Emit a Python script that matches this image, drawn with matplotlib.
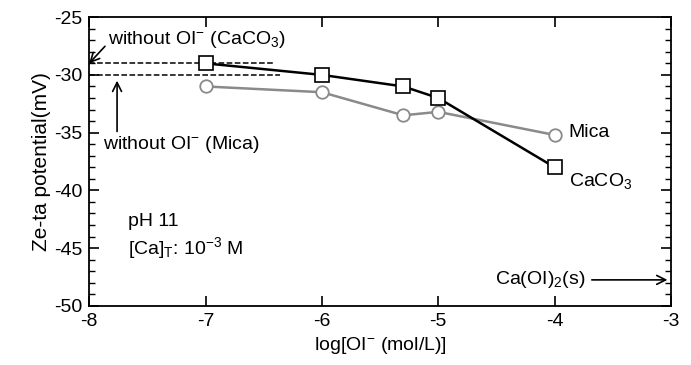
import numpy as np
import matplotlib.pyplot as plt
from matplotlib.ticker import MultipleLocator

plt.rcParams['font.family'] = ['Liberation Sans', 'DejaVu Sans']
plt.rcParams['font.size'] = 14
plt.rcParams['axes.unicode_minus'] = False
plt.rcParams['mathtext.fontset'] = 'custom'
plt.rcParams['mathtext.rm'] = 'Liberation Sans'
plt.rcParams['mathtext.it'] = 'Liberation Sans:italic'
plt.rcParams['mathtext.bf'] = 'Liberation Sans:bold'

# data
log_ol = [-7, -6, -5.3, -5, -4]
zeta_caco3 = [-29, -30, -31, -32, -38]
zeta_mica = [-31, -31.5, -33.5, -33.2, -35.2]
base_caco3 = -29
base_mica = -30

fig = plt.figure(figsize=(6.91, 3.65), dpi=100)
ax = fig.add_axes([0.129, 0.162, 0.842, 0.791])

gray = '#8a8a8a'
ax.plot(log_ol, zeta_mica, '-o', color=gray, lw=1.8, ms=9,
        mfc='white', mec=gray, mew=1.3, zorder=3)
ax.plot(log_ol, zeta_caco3, '-s', color='black', lw=1.8, ms=10.5,
        mfc='white', mec='black', mew=1.2, zorder=4)

# baselines without OI-
ax.plot([-8, -6.4], [base_caco3, base_caco3], '--', color='black', lw=1.1, zorder=2)
ax.plot([-8, -6.36], [base_mica, base_mica], '--', color='black', lw=1.1, zorder=2)

ax.annotate('without OI$^{\\mathregular{-}}$ (CaCO$_3$)', xy=(-8, base_caco3),
            xytext=(-7.84, -26.9), ha='left', va='center',
            arrowprops=dict(arrowstyle='->', color='black', lw=1.2,
                            mutation_scale=16, shrinkA=0, shrinkB=0,
                            relpos=(0, 0.3)))
ax.annotate('', xy=(-7.76, -30.5), xytext=(-7.76, -34.9),
            arrowprops=dict(arrowstyle='->', color='black', lw=1.2,
                            mutation_scale=16, shrinkA=0, shrinkB=0))
ax.text(-7.88, -36.0, 'without OI$^{\\mathregular{-}}$ (Mica)', ha='left', va='center')

ax.text(-3.88, -35.0, 'Mica', ha='left', va='center')
ax.text(-3.88, -39.2, 'CaCO$_3$', ha='left', va='center')

ax.text(-7.67, -42.7, 'pH 11', ha='left', va='center')
ax.text(-7.67, -45.0, '[Ca]$_\\mathregular{T}$: 10$^{\\mathregular{-3}}$ M', ha='left', va='center')

ax.annotate('Ca(OI)$_2$(s)', xy=(-3.03, -47.75), xytext=(-3.74, -47.75),
            ha='right', va='center',
            arrowprops=dict(arrowstyle='->', color='black', lw=1.2,
                            mutation_scale=16, shrinkA=3, shrinkB=0))

ax.set_xlim(-8, -3)
ax.set_ylim(-50, -25)
ax.xaxis.set_major_locator(MultipleLocator(1))
ax.yaxis.set_major_locator(MultipleLocator(5))
ax.yaxis.set_minor_locator(MultipleLocator(1))
ax.tick_params(which='both', direction='in', top=True, right=True, labelsize=14)
ax.tick_params(which='major', length=7, width=1.2, pad=5)
ax.tick_params(which='minor', length=4, width=1)
for s in ax.spines.values():
    s.set_linewidth(1.3)

ax.set_xlabel('log[OI$^{\\mathregular{-}}$ (mol/L)]', fontsize=14, labelpad=4)
ax.set_ylabel('Ze-ta potential(mV)', fontsize=15, labelpad=2)

fig.savefig('out.png', dpi=100)
